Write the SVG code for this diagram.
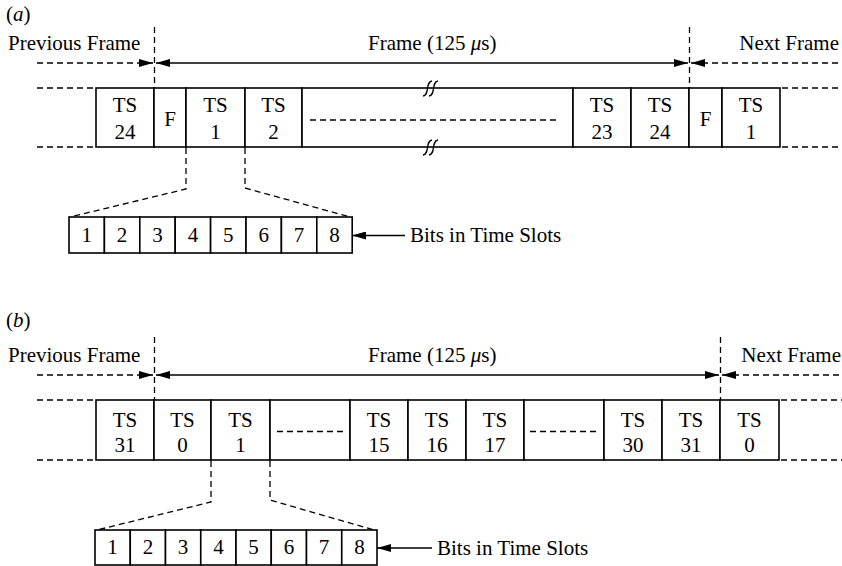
<svg xmlns="http://www.w3.org/2000/svg" width="842" height="566" viewBox="0 0 842 566">
<defs>
<marker id="ah" viewBox="0 0 14 8" refX="14" refY="4" markerWidth="14" markerHeight="8" markerUnits="userSpaceOnUse" orient="auto-start-reverse">
<path d="M0,0 L14,4 L0,8 Z" fill="#000"/>
</marker>
</defs>
<style>
text{font-family:"Liberation Serif","Times New Roman",serif;font-size:21px;fill:#000}
.c{text-anchor:middle}
.cell{fill:#fff;stroke:#000;stroke-width:1.6}
.ln{fill:none;stroke:#000;stroke-width:1.5}
.ds{fill:none;stroke:#000;stroke-width:1.3;stroke-dasharray:6 4}
.brk{fill:none;stroke:#000;stroke-width:1.3}
</style>
<rect width="842" height="566" fill="#fff"/>

<!-- ===== (a) ===== -->
<text x="6" y="21">(<tspan font-style="italic">a</tspan>)</text>
<text x="8" y="50">Previous Frame</text>
<text x="368" y="50">Frame (125 <tspan font-style="italic">μ</tspan>s)</text>
<text x="839" y="50" text-anchor="end">Next Frame</text>

<g id="a-cells">
<g id="a-ts24a"><rect class="cell" x="96" y="88" width="58" height="59"/><text class="c" x="125" y="112">TS</text><text class="c" x="125" y="139">24</text></g>
<g id="a-f1"><rect class="cell" x="154" y="88" width="32" height="59"/><text class="c" x="170" y="126">F</text></g>
<g id="a-ts1"><rect class="cell" x="186" y="88" width="59" height="59"/><text class="c" x="215.5" y="112">TS</text><text class="c" x="215.5" y="139">1</text></g>
<g id="a-ts2"><rect class="cell" x="245" y="88" width="57" height="59"/><text class="c" x="273.5" y="112">TS</text><text class="c" x="273.5" y="139">2</text></g>
<g id="a-mid"><rect class="cell" x="302" y="88" width="271" height="59"/><line class="ds" x1="310" y1="120" x2="558" y2="120"/>
<path class="brk" d="M423 96 C430 95 425 82 432 81"/><path class="brk" d="M429 96 C436 95 431 82 438 81"/>
<path class="brk" d="M423 155 C430 154 425 141 432 140"/><path class="brk" d="M429 155 C436 154 431 141 438 140"/></g>
<g id="a-ts23"><rect class="cell" x="573" y="88" width="58" height="59"/><text class="c" x="602" y="112">TS</text><text class="c" x="602" y="139">23</text></g>
<g id="a-ts24b"><rect class="cell" x="631" y="88" width="58" height="59"/><text class="c" x="660" y="112">TS</text><text class="c" x="660" y="139">24</text></g>
<g id="a-f2"><rect class="cell" x="689" y="88" width="33" height="59"/><text class="c" x="705.5" y="126">F</text></g>
<g id="a-ts1b"><rect class="cell" x="722" y="88" width="58" height="59"/><text class="c" x="751" y="112">TS</text><text class="c" x="751" y="139">1</text></g>
</g>

<g id="a-bits">
<g id="a-b1"><rect class="cell" x="69" y="217" width="35.4" height="36"/><text class="c" x="86.7" y="242">1</text></g>
<g id="a-b2"><rect class="cell" x="104.4" y="217" width="35.4" height="36"/><text class="c" x="122.1" y="242">2</text></g>
<g id="a-b3"><rect class="cell" x="139.8" y="217" width="35.4" height="36"/><text class="c" x="157.5" y="242">3</text></g>
<g id="a-b4"><rect class="cell" x="175.2" y="217" width="35.4" height="36"/><text class="c" x="192.9" y="242">4</text></g>
<g id="a-b5"><rect class="cell" x="210.6" y="217" width="35.4" height="36"/><text class="c" x="228.3" y="242">5</text></g>
<g id="a-b6"><rect class="cell" x="246" y="217" width="35.4" height="36"/><text class="c" x="263.7" y="242">6</text></g>
<g id="a-b7"><rect class="cell" x="281.4" y="217" width="35.4" height="36"/><text class="c" x="299.1" y="242">7</text></g>
<g id="a-b8"><rect class="cell" x="316.8" y="217" width="35.4" height="36"/><text class="c" x="334.5" y="242">8</text></g>
</g>
<text x="410" y="242">Bits in Time Slots</text>

<!-- ===== (b) ===== -->
<text x="6" y="327">(<tspan font-style="italic">b</tspan>)</text>
<text x="8" y="362">Previous Frame</text>
<text x="368" y="362">Frame (125 <tspan font-style="italic">μ</tspan>s)</text>
<text x="841" y="362" text-anchor="end">Next Frame</text>

<g id="b-cells">
<g id="b-ts31a"><rect class="cell" x="96" y="400" width="58" height="60"/><text class="c" x="125" y="427">TS</text><text class="c" x="125" y="452">31</text></g>
<g id="b-ts0a"><rect class="cell" x="154" y="400" width="57" height="60"/><text class="c" x="182.5" y="427">TS</text><text class="c" x="182.5" y="452">0</text></g>
<g id="b-ts1"><rect class="cell" x="211" y="400" width="59" height="60"/><text class="c" x="240.5" y="427">TS</text><text class="c" x="240.5" y="452">1</text></g>
<g id="b-mid1"><rect class="cell" x="270" y="400" width="80" height="60"/><line class="ds" x1="277" y1="431.5" x2="343" y2="431.5"/></g>
<g id="b-ts15"><rect class="cell" x="350" y="400" width="58" height="60"/><text class="c" x="379" y="427">TS</text><text class="c" x="379" y="452">15</text></g>
<g id="b-ts16"><rect class="cell" x="408" y="400" width="58" height="60"/><text class="c" x="437" y="427">TS</text><text class="c" x="437" y="452">16</text></g>
<g id="b-ts17"><rect class="cell" x="466" y="400" width="58" height="60"/><text class="c" x="495" y="427">TS</text><text class="c" x="495" y="452">17</text></g>
<g id="b-mid2"><rect class="cell" x="524" y="400" width="80" height="60"/><line class="ds" x1="530" y1="431.5" x2="597" y2="431.5"/></g>
<g id="b-ts30"><rect class="cell" x="604" y="400" width="58" height="60"/><text class="c" x="633" y="427">TS</text><text class="c" x="633" y="452">30</text></g>
<g id="b-ts31b"><rect class="cell" x="662" y="400" width="58" height="60"/><text class="c" x="691" y="427">TS</text><text class="c" x="691" y="452">31</text></g>
<g id="b-ts0b"><rect class="cell" x="720" y="400" width="59" height="60"/><text class="c" x="749.5" y="427">TS</text><text class="c" x="749.5" y="452">0</text></g>
</g>

<g id="b-bits">
<g id="b-b1"><rect class="cell" x="95" y="530" width="35.25" height="35"/><text class="c" x="112.6" y="554">1</text></g>
<g id="b-b2"><rect class="cell" x="130.25" y="530" width="35.25" height="35"/><text class="c" x="147.9" y="554">2</text></g>
<g id="b-b3"><rect class="cell" x="165.5" y="530" width="35.25" height="35"/><text class="c" x="183.1" y="554">3</text></g>
<g id="b-b4"><rect class="cell" x="200.75" y="530" width="35.25" height="35"/><text class="c" x="218.4" y="554">4</text></g>
<g id="b-b5"><rect class="cell" x="236" y="530" width="35.25" height="35"/><text class="c" x="253.6" y="554">5</text></g>
<g id="b-b6"><rect class="cell" x="271.25" y="530" width="35.25" height="35"/><text class="c" x="288.9" y="554">6</text></g>
<g id="b-b7"><rect class="cell" x="306.5" y="530" width="35.25" height="35"/><text class="c" x="324.1" y="554">7</text></g>
<g id="b-b8"><rect class="cell" x="341.75" y="530" width="35.25" height="35"/><text class="c" x="359.4" y="554">8</text></g>
</g>
<text x="437" y="555">Bits in Time Slots</text>

<!-- ===== connectors ===== -->
<g id="connectors">
<!-- (a) -->
<line class="ds" x1="154.5" y1="27" x2="154.5" y2="88"/>
<line class="ds" x1="689.5" y1="27" x2="689.5" y2="88"/>
<line class="ds" x1="37" y1="63" x2="140" y2="63"/>
<line class="ln" x1="139" y1="63" x2="153" y2="63" marker-end="url(#ah)"/>
<line class="ln" x1="156" y1="63" x2="688" y2="63" marker-start="url(#ah)" marker-end="url(#ah)"/>
<line class="ln" x1="691" y1="63" x2="708" y2="63" marker-start="url(#ah)"/>
<line class="ds" x1="712" y1="63" x2="842" y2="63"/>
<line class="ds" x1="37" y1="88" x2="96" y2="88"/>
<line class="ds" x1="37" y1="147" x2="96" y2="147"/>
<line class="ds" x1="782" y1="88" x2="842" y2="88"/>
<line class="ds" x1="782" y1="147" x2="842" y2="147"/>
<path class="ds" d="M186 148 V189 L70 217"/>
<path class="ds" d="M245 148 V188 L350 217"/>
<line class="ln" x1="352" y1="235.5" x2="405" y2="235.5" marker-start="url(#ah)"/>
<!-- (b) -->
<line class="ds" x1="154.5" y1="337" x2="154.5" y2="400"/>
<line class="ds" x1="720.5" y1="337" x2="720.5" y2="400"/>
<line class="ds" x1="37" y1="375" x2="140" y2="375"/>
<line class="ln" x1="139" y1="375" x2="153" y2="375" marker-end="url(#ah)"/>
<line class="ln" x1="156" y1="375" x2="719" y2="375" marker-start="url(#ah)" marker-end="url(#ah)"/>
<line class="ln" x1="722" y1="375" x2="739" y2="375" marker-start="url(#ah)"/>
<line class="ds" x1="743" y1="375" x2="842" y2="375"/>
<line class="ds" x1="37" y1="400" x2="96" y2="400"/>
<line class="ds" x1="37" y1="460" x2="96" y2="460"/>
<line class="ds" x1="781" y1="400" x2="842" y2="400"/>
<line class="ds" x1="781" y1="460" x2="842" y2="460"/>
<path class="ds" d="M211 461 V502 L97 530"/>
<path class="ds" d="M270 461 V500 L374 530"/>
<line class="ln" x1="377" y1="548" x2="432" y2="548" marker-start="url(#ah)"/>
</g>
</svg>
